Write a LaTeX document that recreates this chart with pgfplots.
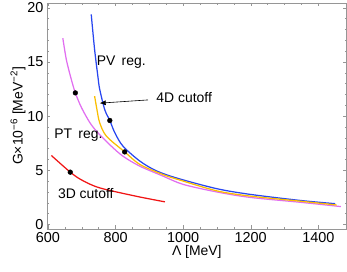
\documentclass[border=0pt]{standalone}
\usepackage{fontspec}
\setmainfont{Liberation Sans}
\usepackage{pgfplots}
\pgfplotsset{compat=1.18}
\usetikzlibrary{calc,arrows.meta}
\definecolor{cblue}{RGB}{40,70,240}
\definecolor{cmag}{RGB}{225,110,240}
\definecolor{cyel}{RGB}{250,190,0}
\definecolor{cred}{RGB}{240,20,20}
\definecolor{fgray}{RGB}{150,150,150}
\begin{document}
\begin{tikzpicture}
\begin{axis}[name=ax,
  scale only axis, width=300bp, height=226bp,
  xmin=597, xmax=1484, ymin=-0.4, ymax=20.45,
  xtick={600,800,1000,1200,1400}, minor x tick num=3,
  ytick={0,5,10,15,20}, minor y tick num=4,
  tick align=inside, major tick length=3.5bp, minor tick length=2bp,
  axis line style={fgray}, every tick/.style={fgray},
  tick label style={font=\fontsize{14.5}{16}\selectfont, text=black},
  /pgf/number format/assume math mode=true,
  /pgf/number format/1000 sep={},
  xlabel={Λ [MeV]}, ylabel={G×10\textsuperscript{\char"2212 6} [MeV\textsuperscript{\char"2212 2}]},
  label style={font=\fontsize{14}{16}\selectfont},
  xlabel style={yshift=4bp}, ylabel style={yshift=-5bp},
  clip=false,
]
\addplot[cblue, line width=1.25pt, smooth] coordinates {
 (728,19.4) (738,16.15) (748,13.6) (753,12.5) (768,10.6) (783,9.6) (798,8.46) (822,7.23) (872,5.85) (921,4.95) (985,4.25) (1100,3.3) (1198,2.78) (1346,2.22) (1450,1.92)};
\addplot[cmag, line width=1.25pt, smooth] coordinates {
 (644,17.2) (654.5,15.2) (669,13.4) (681,12.15) (699,10.8) (724,9.4) (748,8.46) (785,7.3) (822,6.3) (872,5.38) (941,4.46) (1000,3.7) (1100,3.0) (1198,2.5) (1346,2.05) (1467,1.65)};
\addplot[cyel, line width=1.25pt, smooth] coordinates {
 (738,11.85) (745,10.6) (753,9.4) (773,8.15) (827,6.7) (872,5.54) (941,4.6) (985,4.15) (1100,3.1) (1198,2.62) (1346,2.15) (1454,1.8)};
\addplot[cred, line width=1.25pt, smooth] coordinates {
 (610,6.37) (666,4.83) (700,4.1) (753,3.38) (862,2.6) (946,2.09)};
\addplot[only marks, mark=*, mark size=2.4pt, black] coordinates {
 (681,12.15) (783,9.6) (827,6.7) (666,4.83)};
\node[font=\fontsize{14}{16}\selectfont] at (axis cs:817,15.0) {PV\, reg.};
\node[font=\fontsize{14}{16}\selectfont] at (axis cs:690,8.25) {PT\, reg.};
\node[font=\fontsize{14}{16}\selectfont] at (axis cs:712,2.9) {3D cutoff};
\node[font=\fontsize{14}{16}\selectfont] at (axis cs:1003,11.75) {4D cutoff};
\draw[-{Latex[length=6bp,width=5bp]}, black, line width=0.6pt] (axis cs:896,11.5) -- (axis cs:753,11.2);
\end{axis}
\pgfresetboundingbox
\useasboundingbox ($(ax.south west)+(-47bp,-43bp)$) rectangle ($(ax.north east)+(0.3bp,3bp)$);
\end{tikzpicture}
\end{document}
